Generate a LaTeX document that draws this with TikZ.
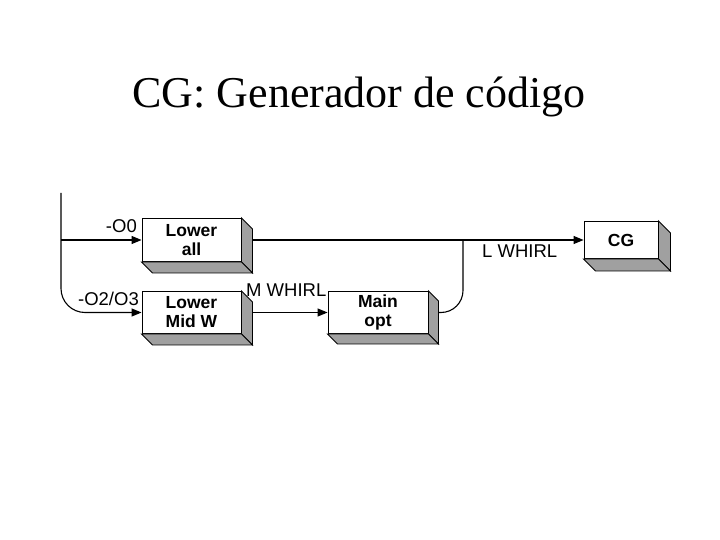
\documentclass[tikz,border=0pt]{standalone}
\usepackage{fontspec}
\setmainfont{Liberation Serif}
\newfontfamily\arialfont{Liberation Sans}
\usetikzlibrary{arrows.meta}
\definecolor{shade}{RGB}{160,160,160}
\newcommand{\depthfaces}[2]{%
  \filldraw[fill=shade,draw=black,line width=0.9pt,line join=miter]
    (#1.north east) -- ++(#2,#2) -- ([shift={(#2,#2)}]#1.south east) -- (#1.south east) -- cycle;
  \filldraw[fill=shade,draw=black,line width=0.9pt,line join=miter]
    (#1.south west) -- ++(#2,#2) -- ([shift={(#2,#2)}]#1.south east) -- (#1.south east) -- cycle;
}
\begin{document}
\begin{tikzpicture}[x=1pt,y=-1pt,
  cube/.style={draw=black,fill=white,line width=0.9pt,inner sep=0pt,
    align=center,font=\arialfont\bfseries\fontsize{17.5}{19}\selectfont},
  lbl/.style={inner sep=0pt,font=\arialfont\fontsize{18.5}{20}\selectfont},
  conn/.style={line width=1.1pt},
  arr/.style={conn,-{Triangle[length=10pt,width=8pt]}}]
\useasboundingbox (0,0) rectangle (720,540);
\node[anchor=base,inner sep=0pt,font=\fontsize{44}{48}\selectfont] (title) at (359,108) {CG: Generador de código};

\node[cube,minimum width=99pt,minimum height=43pt] (la) at (191.5,240) {Lower\\all};
\depthfaces{la}{11}
\node[cube,minimum width=99pt,minimum height=42pt] (lm) at (191.5,312.5) {Lower\\Mid W};
\depthfaces{lm}{11}
\node[cube,minimum width=100pt,minimum height=42pt] (mo) at (378,312.5) {Main\\opt};
\depthfaces{mo}{10}
\node[cube,minimum width=74pt,minimum height=37pt] (cg) at (621,240) {CG};
\depthfaces{cg}{12}

\coordinate (top) at (61,193);
\coordinate (b0) at (61,240);
\coordinate (j) at (463,240);
\draw[arr,rounded corners=24pt] (top) |- (lm.west);
\draw[arr] (b0) -- (la.west);
\draw[arr] ([xshift=11pt]la.east) -- (cg.west);
\draw[arr] ([xshift=11pt]lm.east) -- (mo.west);
\draw[conn,rounded corners=22pt] (j) |- ([xshift=10pt]mo.east);

\node[lbl,anchor=base east] (o0) at (137,233) {-O0};
\node[lbl,anchor=base east] (o23) at (139,305) {-O2/O3};
\node[lbl,anchor=base west] (mw) at (246,296) {M WHIRL};
\node[lbl,anchor=base west] (lw) at (482,257) {L WHIRL};
\end{tikzpicture}
\end{document}
